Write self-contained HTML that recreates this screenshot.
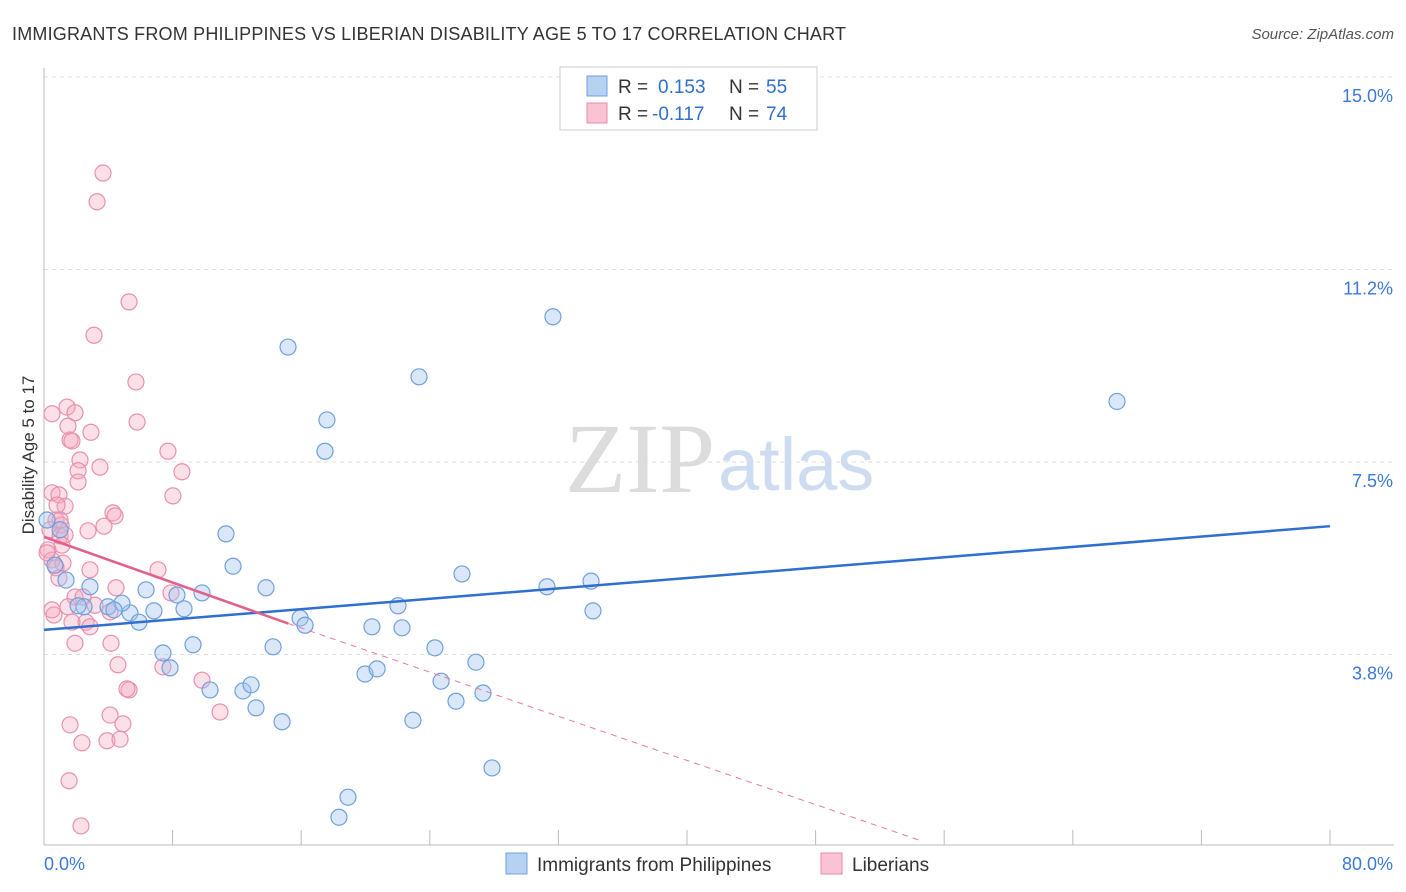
<!DOCTYPE html>
<html><head><meta charset="utf-8"><style>
body{margin:0;background:#fff;font-family:"Liberation Sans",sans-serif;}
svg{display:block}
</style></head><body>
<svg id="chart" width="1406" height="892">
<text x="12" y="40" font-size="18" fill="#333" textLength="834">IMMIGRANTS FROM PHILIPPINES VS LIBERIAN DISABILITY AGE 5 TO 17 CORRELATION CHART</text>
<text x="1394" y="39" font-size="15" fill="#555" font-style="italic" text-anchor="end">Source: ZipAtlas.com</text>
<text x="715" y="492" font-size="100" fill="#dcdcdc" text-anchor="end" font-family="Liberation Serif,serif">ZIP</text>
<text x="718" y="490" font-size="74" fill="#cddcf0">atlas</text>
<text transform="translate(34,455) rotate(-90)" font-size="17" fill="#333" text-anchor="middle">Disability Age 5 to 17</text>
<g id="grid"></g><g id="marks"></g>
<g>
<rect x="560" y="67" width="257" height="63" fill="#fff" stroke="#ccc"/>
<rect x="587" y="76" width="20" height="20" fill="#b7d1f3" stroke="#6fa0dc"/>
<rect x="587" y="103" width="20" height="20" fill="#f9c3d3" stroke="#e88aaa"/>
<text x="618" y="93" font-size="19" fill="#333">R =</text>
<text x="658" y="93" font-size="19" fill="#2e6fd0">0.153</text>
<text x="729" y="93" font-size="19" fill="#333">N =</text>
<text x="766" y="93" font-size="19" fill="#2e6fd0">55</text>
<text x="618" y="120" font-size="19" fill="#333">R =</text>
<text x="652" y="120" font-size="19" fill="#2e6fd0">-0.117</text>
<text x="729" y="120" font-size="19" fill="#333">N =</text>
<text x="766" y="120" font-size="19" fill="#2e6fd0">74</text>
</g>
<g>
<rect x="506" y="853" width="21" height="21" fill="#b7d1f3" stroke="#6fa0dc"/>
<text x="537" y="871" font-size="19" fill="#333">Immigrants from Philippines</text>
<rect x="821" y="853" width="21" height="21" fill="#f9c3d3" stroke="#e88aaa"/>
<text x="852" y="871" font-size="19" fill="#333">Liberians</text>
</g>
</svg>
<script>
const blueX=[15.18,31.66,23.33,66.75,17.60,17.48,11.32,11.76,13.81,26.00,31.29,34.03,34.15,22.02,20.40,22.27,15.93,16.24,8.71,8.27,9.83,6.35,6.84,5.35,5.91,4.85,3.98,4.35,2.86,1.37,2.49,2.12,0.68,0.19,7.40,7.84,9.27,14.25,10.33,12.38,12.88,13.19,14.81,19.97,20.72,24.32,26.87,24.70,25.63,27.31,22.95,27.87,18.91,18.35,1.00];
const blueY=[9.74,10.33,9.16,8.68,8.32,7.71,6.10,5.47,5.05,5.32,5.07,5.18,4.60,4.70,4.29,4.27,4.46,4.32,4.64,4.91,4.95,5.01,4.60,4.56,4.38,4.75,4.68,4.62,5.07,5.20,4.68,4.70,5.49,6.37,3.78,3.49,3.94,3.90,3.06,3.04,3.16,2.71,2.44,3.37,3.47,3.88,3.60,3.23,2.84,3.00,2.47,1.54,0.97,0.58,6.18];
const pinkX=[3.67,3.30,5.29,3.11,5.72,0.50,1.43,1.93,1.49,1.62,1.74,2.92,5.79,7.71,8.58,3.48,2.24,2.12,2.12,0.50,0.93,1.31,8.02,4.29,4.42,3.73,2.74,0.75,1.06,0.37,1.00,0.25,0.50,1.18,0.75,0.93,2.86,7.09,4.48,1.93,1.49,0.62,2.61,2.86,4.11,4.17,1.93,4.60,7.90,7.40,9.83,5.29,5.16,10.95,4.11,4.91,1.62,2.36,3.92,4.73,1.56,2.30,0.19,1.00,1.31,0.50,1.74,3.17,2.43,1.12,0.81];
const pinkY=[13.13,12.57,10.62,9.97,9.06,8.44,8.57,8.46,8.20,7.93,7.91,8.08,8.28,7.71,7.31,7.40,7.54,7.33,7.11,6.90,6.86,6.64,6.84,6.51,6.45,6.25,6.16,6.37,6.27,6.18,6.06,5.79,5.59,5.53,5.44,5.24,5.40,5.40,5.05,4.87,4.68,4.52,4.38,4.29,4.58,3.97,3.97,3.55,4.95,3.51,3.25,3.06,3.08,2.63,2.57,2.40,2.38,2.03,2.07,2.10,1.29,0.41,5.73,6.37,6.08,4.62,4.38,4.71,4.87,5.88,6.66];
const yTicks=[3.75,7.5,11.25,15];
const yTickLabels=["3.8%","7.5%","11.2%","15.0%"];
const blueTrend=[4.23,6.25];
const pinkTrend=[6.04,-0.111];
const pinkSolidEnd=15.2;
const NS="http://www.w3.org/2000/svg";
const X0=44,X1=1330,Y0=847,PX=51.33;
const sx=v=>X0+(X1-X0)*v/80, sy=v=>Y0-v*PX;
function mk(tag,attrs,parent){const e=document.createElementNS(NS,tag);for(const k in attrs)e.setAttribute(k,attrs[k]);parent.appendChild(e);return e;}
const g=document.getElementById('grid'), m=document.getElementById('marks');
yTicks.forEach((t,i)=>{
 const l=mk('line',{x1:X0,x2:1394,y1:sy(t),y2:sy(t),stroke:'#ddd','stroke-dasharray':'4,4'},g);
 
 
 const tx=mk('text',{x:1393,y:sy(t)+25,'font-size':18,fill:'#3b78d8','text-anchor':'end'},g);
 tx.textContent=yTickLabels[i];
 
 
});
const ax=mk('line',{x1:X0,x2:X0,y1:68,y2:845,stroke:'#bbb'},g);


const bx=mk('line',{x1:X0,x2:1394,y1:845,y2:845,stroke:'#bbb'},g);


for(let i=1;i<=10;i++){const t=mk('line',{x1:sx(i*8),x2:sx(i*8),y1:830,y2:845,stroke:'#bbb'},g);
 
 }
const xl=mk('text',{x:44,y:870,'font-size':18,fill:'#3b78d8'},g);xl.textContent='0.0%';


const xr=mk('text',{x:1393,y:870,'font-size':18,fill:'#3b78d8','text-anchor':'end'},g);xr.textContent='80.0%';


pinkX.forEach((x,i)=>{const c=mk('circle',{cx:sx(x),cy:sy(pinkY[i]),r:8,fill:'rgba(245,165,190,0.35)',stroke:'#e890ae','stroke-width':1.2},m);
 
 });
blueX.forEach((x,i)=>{const c=mk('circle',{cx:sx(x),cy:sy(blueY[i]),r:8,fill:'rgba(160,196,240,0.4)',stroke:'#6fa0dc','stroke-width':1.2},m);
 
 });
const bl=mk('line',{x1:sx(0),y1:sy(blueTrend[0]),x2:sx(80),y2:sy(blueTrend[1]),stroke:'#2e6fd0','stroke-width':2.5},m);


const pf=x=>pinkTrend[0]+pinkTrend[1]*x;
const zeroX=-pinkTrend[0]/pinkTrend[1];
const pd=mk('line',{x1:sx(pinkSolidEnd),y1:sy(pf(pinkSolidEnd)),x2:sx(zeroX),y2:sy(0)-7,stroke:'#e87aa0','stroke-width':1,'stroke-dasharray':'6,5'},m);


const pl=mk('line',{x1:sx(0),y1:sy(pf(0)),x2:sx(pinkSolidEnd),y2:sy(pf(pinkSolidEnd)),stroke:'#e0608e','stroke-width':2.5},m);


</script>
</body></html>
